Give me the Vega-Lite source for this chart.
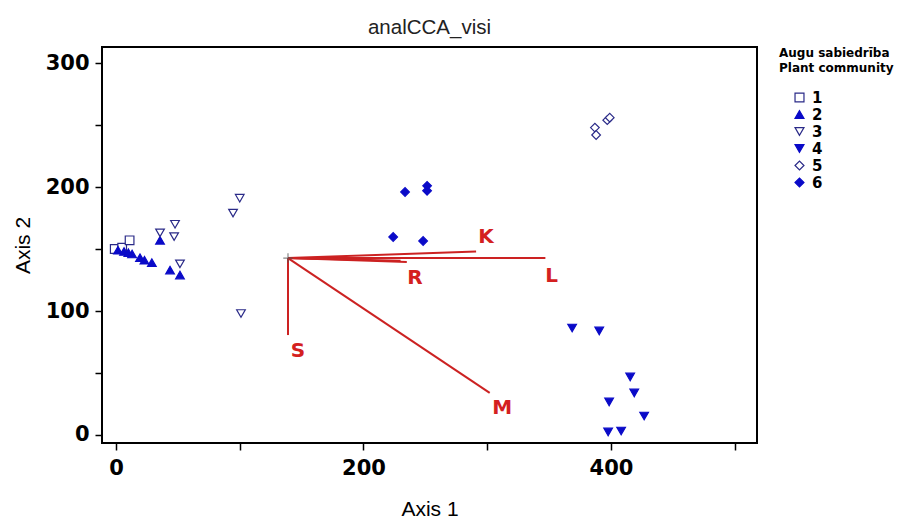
{
  "$schema": "https://vega.github.io/schema/vega-lite/v6.json",
  "width": 655,
  "height": 396,
  "autosize": {"type": "none"},
  "padding": {"left": 102, "top": 47, "right": 144, "bottom": 79},
  "background": "white",
  "title": {"text": "analCCA_visi", "font": "Liberation Sans", "fontSize": 20.5, "fontWeight": "normal", "color": "#222222", "anchor": "middle", "offset": 9},
  "config": {
    "view": {"stroke": "black", "strokeWidth": 2},
    "axis": {"grid": false, "domain": false, "tickColor": "black", "tickWidth": 1.5, "tickSize": 7,
      "labelFont": "DejaVu Sans", "labelFontWeight": "bold", "labelFontSize": 21, "labelColor": "black",
      "titleFont": "Liberation Sans", "titleFontWeight": "normal", "titleFontSize": 21, "titleColor": "black"},
    "legend": {"titleFont": "DejaVu Sans", "titleFontWeight": "bold", "titleFontSize": 12, "titleColor": "black", "titleLineHeight": 15, "titlePadding": 15,
      "labelFont": "DejaVu Sans", "labelFontWeight": "bold", "labelFontSize": 15, "labelColor": "black", "labelOffset": 5,
      "symbolSize": 80, "symbolStrokeWidth": 1.2, "symbolOffset": 13, "rowPadding": 1}
  },
  "datasets": {
    "sites": [
      {"grp": "1", "ax1": -1, "ax2": 150},
      {"grp": "1", "ax1": 5, "ax2": 151},
      {"grp": "1", "ax1": 11, "ax2": 157},
      {"grp": "2", "ax1": 1.6, "ax2": 149},
      {"grp": "2", "ax1": 6.5, "ax2": 148},
      {"grp": "2", "ax1": 10, "ax2": 147},
      {"grp": "2", "ax1": 13, "ax2": 146},
      {"grp": "2", "ax1": 19.4, "ax2": 143},
      {"grp": "2", "ax1": 23, "ax2": 141},
      {"grp": "2", "ax1": 29, "ax2": 139},
      {"grp": "2", "ax1": 35.6, "ax2": 157},
      {"grp": "2", "ax1": 43.7, "ax2": 133},
      {"grp": "2", "ax1": 51.7, "ax2": 129},
      {"grp": "3", "ax1": 35.6, "ax2": 163},
      {"grp": "3", "ax1": 47.7, "ax2": 170},
      {"grp": "3", "ax1": 47, "ax2": 160},
      {"grp": "3", "ax1": 51.7, "ax2": 138},
      {"grp": "3", "ax1": 94.6, "ax2": 179},
      {"grp": "3", "ax1": 100, "ax2": 191},
      {"grp": "3", "ax1": 101, "ax2": 98},
      {"grp": "4", "ax1": 368.6, "ax2": 86.3},
      {"grp": "4", "ax1": 390.5, "ax2": 83.9},
      {"grp": "4", "ax1": 415.5, "ax2": 46.8},
      {"grp": "4", "ax1": 418.8, "ax2": 33.9},
      {"grp": "4", "ax1": 398.5, "ax2": 26.6},
      {"grp": "4", "ax1": 426.8, "ax2": 15.3},
      {"grp": "4", "ax1": 397.7, "ax2": 2.4},
      {"grp": "4", "ax1": 408.2, "ax2": 3.2},
      {"grp": "5", "ax1": 387, "ax2": 248},
      {"grp": "5", "ax1": 388, "ax2": 242},
      {"grp": "5", "ax1": 397, "ax2": 254},
      {"grp": "5", "ax1": 399, "ax2": 256},
      {"grp": "6", "ax1": 233.6, "ax2": 196},
      {"grp": "6", "ax1": 251.4, "ax2": 201},
      {"grp": "6", "ax1": 251.4, "ax2": 197},
      {"grp": "6", "ax1": 224, "ax2": 159.7},
      {"grp": "6", "ax1": 248.2, "ax2": 156.5}
    ],
    "vectors": [
      {"name": "S", "x0": 139, "y0": 142.7, "x1": 139, "y1": 80.6, "lx": 147, "ly": 68},
      {"name": "M", "x0": 139, "y0": 142.7, "x1": 302, "y1": 33.9, "lx": 312, "ly": 21.5},
      {"name": "L", "x0": 139, "y0": 142.7, "x1": 347, "y1": 142.7, "lx": 352, "ly": 128.5},
      {"name": "K", "x0": 139, "y0": 142.7, "x1": 291, "y1": 148, "lx": 299, "ly": 159.5},
      {"name": "R", "x0": 139, "y0": 142.7, "x1": 235, "y1": 139.5, "lx": 241.5, "ly": 126.5},
      {"name": "", "x0": 139, "y0": 142.7, "x1": 230, "y1": 140.5, "lx": 230, "ly": 140.5},
      {"name": "", "x0": 139, "y0": 142.7, "x1": 200, "y1": 141.5, "lx": 200, "ly": 141.5}
    ],
    "origin": [{"ox": 139, "oy": 142.7}]
  },
  "layer": [
    {
      "data": {"name": "vectors"},
      "mark": {"type": "rule", "color": "#cc2222", "strokeWidth": 2},
      "encoding": {
        "x": {"field": "x0", "type": "quantitative", "scale": {"domain": [-11.3, 518], "nice": false, "zero": false},
          "axis": {"title": "Axis 1", "values": [0, 100, 200, 300, 400, 500], "labelExpr": "datum.value % 200 === 0 ? datum.label : ''", "labelPadding": 7, "titlePadding": 20}},
        "y": {"field": "y0", "type": "quantitative", "scale": {"domain": [-6.5, 313], "nice": false, "zero": false},
          "axis": {"title": "Axis 2", "values": [0, 50, 100, 150, 200, 250, 300], "labelExpr": "datum.value % 100 === 0 ? datum.label : ''", "labelPadding": 6, "titlePadding": 12}},
        "x2": {"field": "x1"},
        "y2": {"field": "y1"}
      }
    },
    {
      "data": {"name": "vectors"},
      "mark": {"type": "text", "color": "#d42020", "font": "DejaVu Sans", "fontWeight": "bold", "fontSize": 20},
      "encoding": {
        "x": {"field": "lx", "type": "quantitative"},
        "y": {"field": "ly", "type": "quantitative"},
        "text": {"field": "name"}
      }
    },
    {
      "data": {"name": "origin"},
      "mark": {"type": "point", "shape": "M-1,0L1,0M0,-1L0,1", "size": 90, "stroke": "#555555", "strokeWidth": 1.2, "filled": false},
      "encoding": {
        "x": {"field": "ox", "type": "quantitative"},
        "y": {"field": "oy", "type": "quantitative"}
      }
    },
    {
      "data": {"name": "sites"},
      "mark": {"type": "point", "filled": true, "size": 75, "strokeWidth": 1.2, "opacity": 1},
      "encoding": {
        "x": {"field": "ax1", "type": "quantitative"},
        "y": {"field": "ax2", "type": "quantitative"},
        "shape": {"field": "grp", "type": "nominal", "scale": {"domain": ["1","2","3","4","5","6"], "range": ["square", "triangle-up", "triangle-down", "triangle-down", "diamond", "diamond"]},
          "legend": {"title": ["Augu sabiedrība", "Plant community"], "orient": "none", "legendX": 677, "legendY": 1}},
        "fill": {"field": "grp", "type": "nominal", "scale": {"domain": ["1","2","3","4","5","6"], "range": ["white", "#0a0ac8", "white", "#0a0ac8", "white", "#0a0ac8"]},
          "legend": {"title": ["Augu sabiedrība", "Plant community"], "orient": "none", "legendX": 677, "legendY": 1}},
        "stroke": {"field": "grp", "type": "nominal", "scale": {"domain": ["1","2","3","4","5","6"], "range": ["#2a2a88", "#0a0ac8", "#2a2a88", "#0a0ac8", "#2a2a88", "#0a0ac8"]},
          "legend": {"title": ["Augu sabiedrība", "Plant community"], "orient": "none", "legendX": 677, "legendY": 1}}
      }
    }
  ],
  "encoding": {}
}
